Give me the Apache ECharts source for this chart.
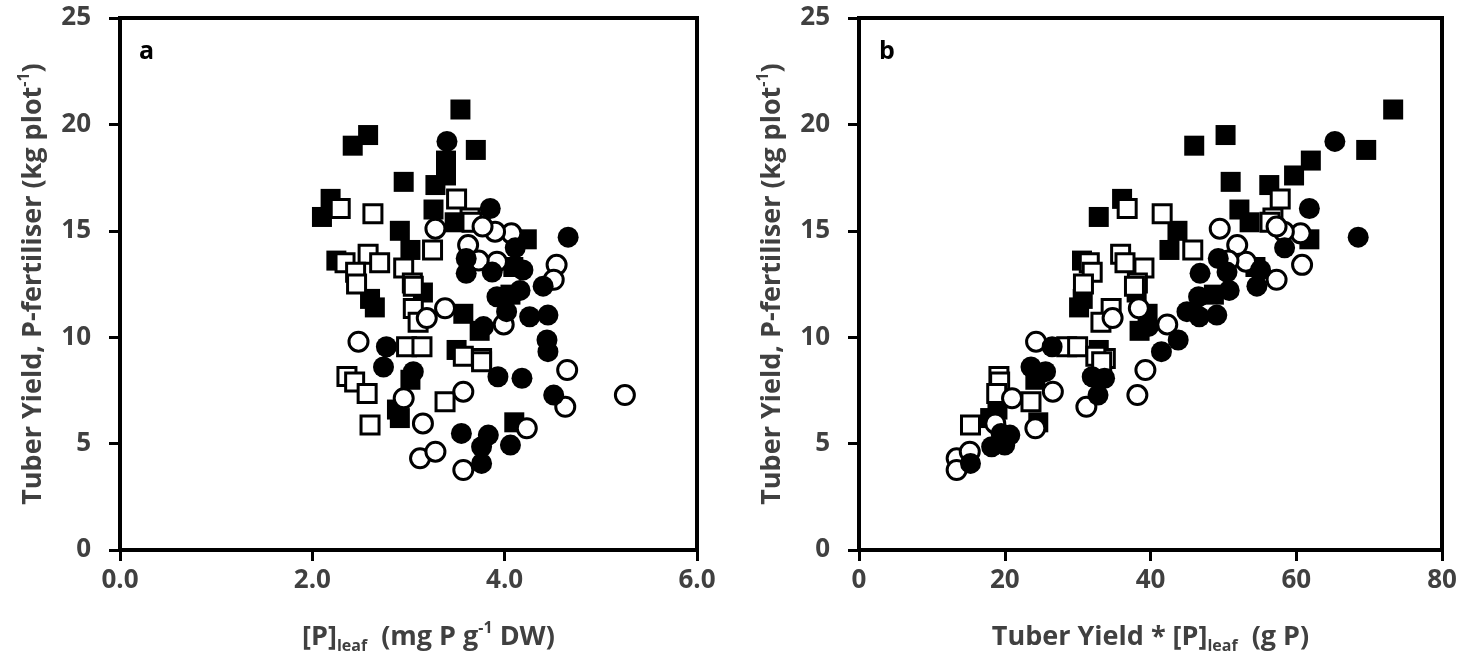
<!DOCTYPE html>
<html>
<head>
<meta charset="utf-8">
<script src="https://cdn.jsdelivr.net/npm/echarts@6/dist/echarts.min.js"></script>
<style>
html,body{margin:0;padding:0;background:#fff;}
#chart{width:1466px;height:662px;}
</style>
</head>
<body>
<div id="chart"></div>
<script>
// Filled squares
const fsYield = [20.7,19.5,19.0,18.8,18.3,17.6,17.3,17.15,16.5,15.65,16.0,15.0,14.6,13.6,14.1,15.4,13.3,11.8,11.4,12.1,11.1,12.0,9.4,6.6,6.2,6.0,10.3,8.0];
const fsLeafP = [3.54,2.58,2.42,3.70,3.39,3.39,2.95,3.28,2.19,2.10,3.26,2.91,4.23,2.25,3.02,3.48,4.09,2.60,2.65,3.15,3.57,4.06,3.50,2.88,2.91,4.10,3.74,3.02];
const fsUptake = [73.3,50.3,46.0,69.6,62.0,59.7,51.0,56.3,36.1,32.9,52.2,43.7,61.8,30.6,42.6,53.6,54.4,30.7,30.2,38.1,39.6,48.7,32.9,19.0,18.0,24.6,38.5,24.2];
// Open squares
const osYield = [16.05,15.8,16.5,15.6,13.9,13.5,13.5,13.25,12.55,11.35,10.7,9.55,9.55,8.15,7.9,7.36,5.87,6.97,9.0,9.1,15.4,12.4,8.85,13.05,14.1,12.5];
const osLeafP = [2.29,2.63,3.50,3.64,2.58,2.70,2.34,2.95,3.04,3.05,3.10,2.98,3.14,2.36,2.44,2.57,2.60,3.38,3.76,3.57,3.66,3.05,3.76,2.45,3.25,2.46];
const osUptake = [36.8,41.6,57.8,56.8,35.9,36.5,31.6,39.1,38.2,34.6,33.2,28.5,30.0,19.2,19.3,18.9,15.3,23.6,33.8,32.5,56.4,37.8,33.3,32.0,45.8,30.8];
// Filled circles
const fcYield = [19.2,16.05,14.7,13.7,13.16,12.4,12.2,11.9,10.96,11.04,11.2,9.87,9.32,10.5,8.14,8.07,7.28,5.48,5.40,4.85,4.93,4.07,8.38,9.55,8.6,13.0,13.06,14.2];
const fcLeafP = [3.40,3.85,4.66,3.60,4.19,4.40,4.16,3.92,4.26,4.45,4.02,4.44,4.45,3.78,3.93,4.18,4.51,3.55,3.83,3.76,4.06,3.76,3.05,2.77,2.74,3.60,3.87,4.11];
const fcUptake = [65.3,61.8,68.5,49.3,55.1,54.6,50.8,46.6,46.7,49.1,45.0,43.8,41.5,39.7,32.0,33.7,32.8,19.5,20.7,18.2,20.0,15.3,25.6,26.5,23.6,46.8,50.5,58.4];
// Open circles
const ocYield = [13.4,12.7,8.46,6.73,7.28,5.95,4.31,4.62,3.76,5.72,7.44,11.36,10.9,10.6,14.88,13.55,14.33,15.1,14.96,13.6,9.79,7.13,15.2];
const ocLeafP = [4.54,4.51,4.65,4.63,5.25,3.15,3.12,3.28,3.57,4.23,3.57,3.38,3.19,3.99,4.07,3.92,3.62,3.28,3.90,3.73,2.48,2.95,3.77];
const ocUptake = [60.8,57.3,39.3,31.2,38.2,18.7,13.4,15.2,13.4,24.2,26.6,38.4,34.8,42.3,60.6,53.1,51.9,49.5,58.3,50.7,24.3,21.0,57.3];

const yTicks = [0,5,10,15,20,25];
const xTicksA = [0,2,4,6];
const xTicksB = [0,20,40,60,80];

function pts(xs, ys){ return xs.map((x,i)=>[x, ys[i]]); }

const FONT = 'Open Sans';
const labelColor = '#404040';
const rich = {
  sup:{fontSize:16, fontWeight:'bold', fontFamily:FONT, color:labelColor, verticalAlign:'top', lineHeight:16},
  sub:{fontSize:16, fontWeight:'bold', fontFamily:FONT, color:labelColor, verticalAlign:'bottom', lineHeight:16}
};
function nameStyle(pad){
  return {fontSize:27, fontWeight:'bold', fontFamily:FONT, color:labelColor, lineHeight:34, rich:rich, padding:pad};
}

function xAxis(grid, ticks, fmt, name, pad){
  return {
    type:'value', gridIndex:grid, min:ticks[0], max:ticks[ticks.length-1], interval:ticks[1]-ticks[0],
    axisLine:{show:true, lineStyle:{color:'#000', width:4}},
    axisTick:{show:true, inside:false, length:11, lineStyle:{color:'#000', width:3}},
    axisLabel:{formatter:fmt, color:labelColor, fontSize:26, fontWeight:'bold', fontFamily:FONT, margin:18},
    splitLine:{show:false},
    name:name, nameLocation:'middle', nameGap:70, nameTextStyle:nameStyle(pad)
  };
}
function yAxis(grid, name){
  return {
    type:'value', gridIndex:grid, min:yTicks[0], max:yTicks[yTicks.length-1], interval:yTicks[1]-yTicks[0],
    axisLine:{show:true, lineStyle:{color:'#000', width:4}},
    axisTick:{show:true, inside:false, length:11, lineStyle:{color:'#000', width:3}},
    axisLabel:{color:labelColor, fontSize:26, fontWeight:'bold', fontFamily:FONT, margin:29},
    splitLine:{show:false},
    name:name, nameLocation:'middle', nameGap:70, nameRotate:90, nameTextStyle:nameStyle(0)
  };
}

const filled = {color:'#000', opacity:1};
const open = {color:'#fff', borderColor:'#000', borderWidth:3, opacity:1};

function series(xi, sym, style, size, data){
  return {type:'scatter', xAxisIndex:xi, yAxisIndex:xi, symbol:sym, symbolSize:size, itemStyle:style, data:data, silent:true};
}

const yName = 'Tuber Yield, P-fertiliser (kg plot{sup|-1})';

const option = {
  animation:false,
  backgroundColor:'#fff',
  grid:[
    {left:120, top:18, width:577, height:532, show:true, borderColor:'#000', borderWidth:4, backgroundColor:'rgba(0,0,0,0)'},
    {left:859, top:18, width:583, height:532, show:true, borderColor:'#000', borderWidth:4, backgroundColor:'rgba(0,0,0,0)'}
  ],
  xAxis:[
    xAxis(0, xTicksA, v=>v.toFixed(1), '[P]{sub|leaf}  (mg P g{sup|-1} DW)', [0,0,0,40]),
    xAxis(1, xTicksB, v=>String(v), 'Tuber Yield * [P]{sub|leaf}  (g P)', 0)
  ],
  yAxis:[ yAxis(0, yName), yAxis(1, yName) ],
  graphic:[
    {type:'text', left:139, top:39, style:{text:'a', font:'bold 25px "Open Sans"', fill:'#000'}},
    {type:'text', left:879, top:39, style:{text:'b', font:'bold 25px "Open Sans"', fill:'#000'}}
  ],
  series:[
    series(0,'rect',filled,20,pts(fsLeafP,fsYield)),
    series(0,'rect',open,18,pts(osLeafP,osYield)),
    series(0,'circle',open,19,pts(ocLeafP,ocYield)),
    series(0,'circle',filled,21,pts(fcLeafP,fcYield)),
    series(1,'rect',filled,20,pts(fsUptake,fsYield)),
    series(1,'rect',open,18,pts(osUptake,osYield)),
    series(1,'circle',open,19,pts(ocUptake,ocYield)),
    series(1,'circle',filled,21,pts(fcUptake,fcYield))
  ]
};
echarts.init(document.getElementById('chart')).setOption(option);
</script>
</body>
</html>
